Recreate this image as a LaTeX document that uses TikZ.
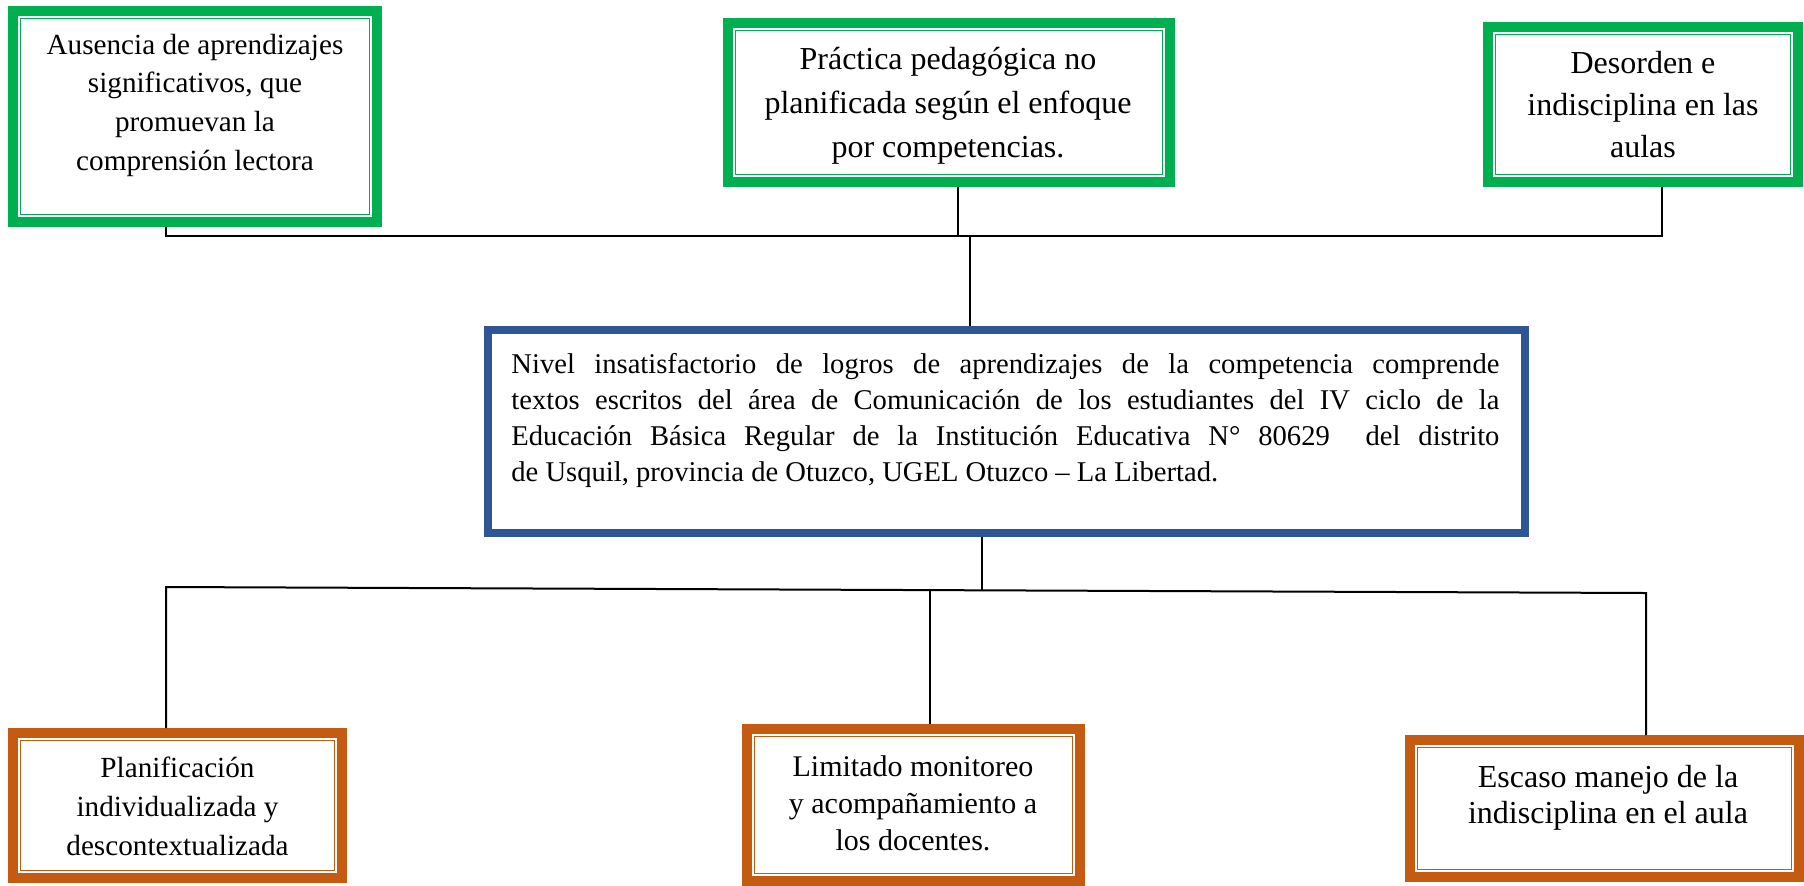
\documentclass[tikz,border=0pt]{standalone}
\usepackage{fontspec}
\setmainfont{Liberation Serif}
\usetikzlibrary{calc,positioning}
\definecolor{cgreen}{HTML}{00B050}
\definecolor{corange}{HTML}{C55A11}
\definecolor{cblue}{HTML}{2F5597}

\begin{document}
\begin{tikzpicture}[
  x=0.5pt, y=-0.5pt,
  cause/.style={rectangle, draw=cgreen, line width=5pt, inner sep=0pt},
  effect/.style={rectangle, draw=corange, line width=5pt, inner sep=0pt},
  problem/.style={rectangle, draw=cblue, line width=4pt, inner sep=0pt},
  txt/.style={align=center, inner sep=0pt, anchor=base},
  link/.style={draw=black, line width=1pt}
]
\useasboundingbox (0,0) rectangle (1804,885);

\node[cause, minimum width=182pt, minimum height=105.5pt] (c1) at (195,116.5) {};
\node[cause, minimum width=221pt, minimum height=79.5pt]  (c2) at (949,102.5) {};
\node[cause, minimum width=155pt, minimum height=77.5pt]  (c3) at (1643,104.5) {};
\node[problem, minimum width=518.5pt, minimum height=101.5pt] (p) at (1006.5,431.5) {};
\node[effect, minimum width=164.5pt, minimum height=72.5pt] (e1) at (177.5,805.5) {};
\node[effect, minimum width=166.5pt, minimum height=76pt]   (e2) at (913.5,805) {};
\node[effect, minimum width=194.5pt, minimum height=68.5pt] (e3) at (1604.5,808.5) {};

\foreach \n/\c in {c1/cgreen,c2/cgreen,c3/cgreen,e1/corange,e2/corange,e3/corange}
  \draw[\c, line width=0.75pt] ([shift={(6.25pt,-6.25pt)}]\n.north west)
    rectangle ([shift={(-6.25pt,6.25pt)}]\n.south east);

\node[txt, font=\fontsize{14.6pt}{19.3pt}\selectfont] (t1) at (195,170)
  {Ausencia de aprendizajes\\ significativos, que\\ promuevan la\\ comprensión lectora};
\node[txt, font=\fontsize{16pt}{22pt}\selectfont] (t2) at (948,157)
  {Práctica pedagógica no\\ planificada según el enfoque\\ por competencias.};
\node[txt, font=\fontsize{16pt}{21pt}\selectfont] (t3) at (1643,157)
  {Desorden e\\ indisciplina en las\\ aulas};
\node[anchor=base west, inner sep=0pt, text width=494pt, align=justify,
      font=\fontsize{14.3pt}{18pt}\selectfont] (tp) at (511,373)
  {Nivel insatisfactorio de logros de aprendizajes de la competencia comprende\linebreak
   textos escritos del área de Comunicación de los estudiantes del IV ciclo de la\linebreak
   Educación Básica Regular de la Institución Educativa N° 80629\ \ del distrito\linebreak
   de Usquil, provincia de Otuzco, UGEL Otuzco – La Libertad.};
\node[txt, font=\fontsize{14.6pt}{19.3pt}\selectfont] (te1) at (177.5,855)
  {Planificación\\ individualizada y\\ descontextualizada};
\node[txt, font=\fontsize{15pt}{18.3pt}\selectfont] (te2) at (913,850)
  {Limitado monitoreo\\ y acompañamiento a\\ los docentes.};
\node[txt, font=\fontsize{16pt}{18pt}\selectfont] (te3) at (1608,823)
  {Escaso manejo de la\\ indisciplina en el aula};

\coordinate (jl) at (166,236);
\coordinate (jm) at (958,236);
\coordinate (jc) at (970,236);
\coordinate (jr) at (1662,236);
\coordinate (bl) at (166,587);
\coordinate (br) at (1646,593);
\coordinate (bc) at ($(bl)!0.5514!(br)$);
\coordinate (bm) at ($(bl)!0.5162!(br)$);

\draw[link] (c1.south -| jl) -- (jl) -- (jr) -- (c3.south -| jr);
\draw[link] (c2.south -| jm) -- (jm);
\draw[link] (jc) -- (jc |- p.north);
\draw[link] (p.south -| bc) -- (bc);
\draw[link] (e1.north -| bl) -- (bl) -- (br) -- (e3.north -| br);
\draw[link] (bm) -- (e2.north -| bm);
\end{tikzpicture}
\end{document}
